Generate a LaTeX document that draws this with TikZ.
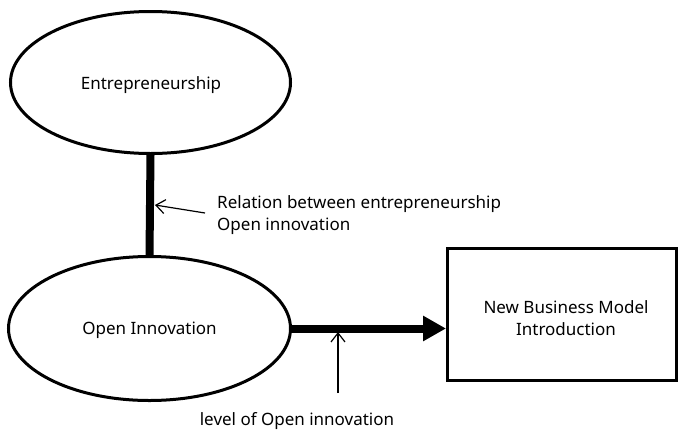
\documentclass[tikz,border=0pt]{standalone}
\usepackage{fontspec}
\setmainfont{Noto Sans}
\usetikzlibrary{shapes.geometric,arrows.meta}
\begin{document}
\begin{tikzpicture}[x=1pt,y=-1pt,
  oval/.style={ellipse,draw,line width=3pt,inner sep=0pt},
  boxnode/.style={rectangle,draw,line width=3pt,inner sep=0pt},
  lbl/.style={font=\fontsize{17}{22}\selectfont,inner sep=0pt},
  thin/.style={line width=1.2pt,-{Straight Barb[length=9pt,width=14pt]}}]
\useasboundingbox (0,0) rectangle (679,434);
\node[oval,minimum width=280pt,minimum height=142pt] (ent) at (150.5,82.5) {};
\node[lbl] (entt) at (151,85) {Entrepreneurship};
\node[oval,minimum width=282pt,minimum height=144pt] (oi) at (149.5,328.5) {};
\node[lbl] (oit) at (149.5,330) {Open Innovation};
\node[boxnode,minimum width=229pt,minimum height=132pt] (nbm) at (562,314.5) {};
\node[lbl,align=center] (nbmt) at (566,318) {New Business Model\\Introduction};
\draw[line width=8pt] (ent.south) -- (oi.north);
\draw[line width=8pt,-{Triangle[length=23pt,width=24pt]}] (oi.east) -- (oi.east -| nbm.west);
\coordinate (a1s) at (205,213);
\coordinate (a1e) at (155,205);
\draw[thin] (a1s) -- (a1e);
\node[lbl,align=left,anchor=west] (rel) at (217,215) {Relation between entrepreneurship\\Open innovation};
\coordinate (a2s) at (338,393);
\coordinate (a2e) at (338,332);
\draw[thin] (a2s) -- (a2e);
\node[lbl] (lev) at (297,421) {level of Open innovation};
\end{tikzpicture}
\end{document}
